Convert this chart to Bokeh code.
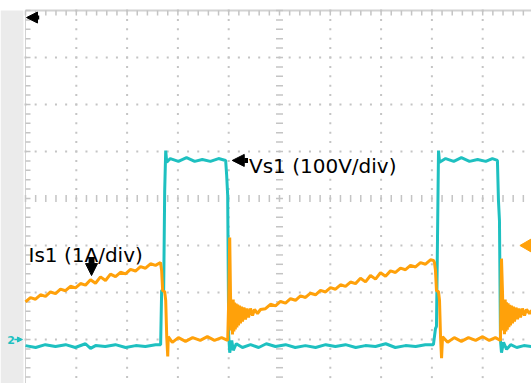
import numpy as np
from bokeh.plotting import figure
from bokeh.models import Range1d, BoxAnnotation, Label, Arrow, NormalHead
from bokeh.embed import file_html
from bokeh.resources import INLINE

# ---- data (time and amplitude in screen divisions) ----
vs1_t = [0.00, 0.20, 0.39, 0.59, 0.79, 0.98, 1.18, 1.28, 1.38, 1.57, 1.77, 1.97, 2.17, 2.36, 2.56, 2.66,
         2.68, 2.72, 2.74, 2.76, 2.78,
         2.85, 3.01, 3.17, 3.33, 3.48, 3.64, 3.80, 3.94,
         3.96, 3.98, 4.00, 4.02, 4.06, 4.09, 4.15,
         4.27, 4.43, 4.59, 4.74, 4.92, 5.12, 5.31, 5.51, 5.71, 5.91, 6.10, 6.30, 6.50, 6.69, 6.89,
         7.09, 7.28, 7.48, 7.68, 7.87, 8.03,
         8.07, 8.09, 8.11, 8.13, 8.15,
         8.27, 8.43, 8.58, 8.74, 8.90, 9.06, 9.19, 9.29,
         9.31, 9.33, 9.35, 9.37, 9.41, 9.47, 9.55, 9.67, 9.81, 9.96]
vs1_v = [-3.13, -3.17, -3.11, -3.15, -3.11, -3.17, -3.09, -3.19, -3.13, -3.15, -3.11, -3.17, -3.13, -3.15, -3.11, -3.11,
         -1.96, -1.94, 0.17, 1.02, 0.77,
         0.85, 0.79, 0.87, 0.79, 0.83, 0.79, 0.85, 0.81,
         0.49, 0.06, -2.91, -3.28, -3.02, -3.23, -3.09,
         -3.17, -3.11, -3.17, -3.09, -3.15, -3.11, -3.17, -3.13, -3.17, -3.11, -3.15, -3.11, -3.17, -3.13, -3.15,
         -3.09, -3.17, -3.13, -3.15, -3.11, -3.11,
         -2.77, -2.72, -0.89, 1.02, 0.77,
         0.85, 0.79, 0.87, 0.79, 0.83, 0.79, 0.85, 0.81,
         -0.04, -0.47, -3.02, -3.28, -3.06, -3.21, -3.11, -3.17, -3.13, -3.15]

is1_t = [0.000, 0.098, 0.197, 0.295, 0.394, 0.492, 0.591, 0.689, 0.787, 0.886, 0.984, 1.083, 1.181, 1.280,
         1.378, 1.476, 1.575, 1.673, 1.772, 1.870, 1.969, 2.067, 2.165, 2.264, 2.362, 2.461, 2.559, 2.657,
         2.68, 2.70, 2.74, 2.76, 2.78, 2.80, 2.81, 2.89, 3.01, 3.15, 3.29, 3.44, 3.58, 3.72, 3.86, 3.98,
         4.00, 4.02,
         4.035, 4.049, 4.063, 4.075, 4.089, 4.102, 4.114, 4.130, 4.146, 4.161, 4.177, 4.193, 4.213, 4.232,
         4.252, 4.272, 4.301, 4.331, 4.360, 4.390, 4.429, 4.469, 4.508, 4.567, 4.626,
         4.724, 4.823, 4.921, 5.020, 5.118, 5.217, 5.315, 5.413, 5.512, 5.610, 5.709, 5.807, 5.906, 6.004,
         6.102, 6.201, 6.299, 6.398, 6.496, 6.594, 6.693, 6.791, 6.890, 6.988, 7.087, 7.185, 7.283, 7.382,
         7.480, 7.579, 7.677, 7.776, 7.874, 7.972, 8.031,
         8.05, 8.07, 8.09, 8.13, 8.15, 8.17, 8.19, 8.21, 8.31, 8.44, 8.58, 8.72, 8.86, 9.00, 9.13, 9.25, 9.35,
         9.37,
         9.390, 9.404, 9.417, 9.429, 9.443, 9.457, 9.469, 9.484, 9.500, 9.516, 9.531, 9.547, 9.567, 9.587,
         9.606, 9.626, 9.656, 9.685, 9.715, 9.744, 9.783, 9.823, 9.862, 9.921, 9.961]
is1_v = [-2.202, -2.109, -2.143, -2.049, -2.083, -1.989, -2.023, -1.928, -1.962, -1.868, -1.902, -1.809, -1.843, -1.728,
         -1.804, -1.668, -1.745, -1.609, -1.664, -1.570, -1.604, -1.509, -1.543, -1.449, -1.483, -1.389, -1.423, -1.362,
         -1.53, -1.96, -1.98, -2.17, -2.94, -3.36, -2.94, -3.06, -2.96, -3.04, -2.96, -3.02, -2.94, -3.02, -2.96, -3.02,
         -2.17, -0.83,
         -2.000, -2.809, -2.170, -2.894, -2.149, -2.830, -2.213, -2.787, -2.234, -2.745, -2.255, -2.702, -2.277, -2.660,
         -2.298, -2.617, -2.319, -2.574, -2.340, -2.532, -2.340, -2.489, -2.362, -2.447, -2.362,
         -2.345, -2.251, -2.285, -2.191, -2.226, -2.132, -2.166, -2.072, -2.106, -2.015, -2.049, -1.955, -1.989, -1.896,
         -1.930, -1.836, -1.870, -1.777, -1.811, -1.698, -1.774, -1.638, -1.715, -1.579, -1.655, -1.540, -1.574, -1.481,
         -1.515, -1.423, -1.457, -1.364, -1.398, -1.304, -1.319,
         -1.36, -1.53, -1.96, -1.98, -2.17, -2.94, -3.40, -2.94, -3.06, -2.96, -3.04, -2.96, -3.02, -2.94, -3.02, -2.96, -3.02,
         -1.28,
         -2.00, -2.81, -2.17, -2.89, -2.15, -2.83, -2.21, -2.79, -2.23, -2.74, -2.26, -2.70, -2.28, -2.66,
         -2.30, -2.62, -2.32, -2.57, -2.34, -2.53, -2.34, -2.49, -2.36, -2.45, -2.38]

ch1_marker = -1.0   # channel 1 reference level (right edge)
ch2_marker = -3.0   # channel 2 reference level (left edge)
trig_level = 3.85

CYAN = "#1ec0c0"
ORANGE = "#ffa10a"
GRID = "#c4c4c4"

p = figure(width=531, height=383, output_backend="svg", toolbar_location=None,
           x_range=Range1d(-25 / 50.8, 506 / 50.8), y_range=Range1d(-185 / 47, 198 / 47),
           x_axis_location=None, y_axis_location=None,
           min_border_left=0, min_border_right=0, min_border_top=0, min_border_bottom=0,
           background_fill_color="white", border_fill_color="white", outline_line_color=None)
p.grid.visible = False

# left grey strip
p.add_layout(BoxAnnotation(right=-0.04, top=4.0, fill_color="#ebebeb", fill_alpha=1, line_color=None))

# frame borders
p.line([0, 0], [-4.2, 4], line_color="#d2d2d2", line_width=1)
p.line([0, 10], [4, 4], line_color="#d2d2d2", line_width=2)

# dotted graticule
minor = np.round(np.arange(0, 10.001, 0.2), 3)
minor_y = np.round(np.arange(-4, 4.001, 0.2), 3)
gx, gy = [], []
for xv in [1, 2, 3, 4, 6, 7, 8, 9]:
    gx += [xv] * len(minor_y); gy += list(minor_y)
for yv in [-3, -2, -1, 1, 2, 3]:
    gx += list(minor); gy += [yv] * len(minor)
p.scatter(gx, gy, marker="square", size=2, fill_color=GRID, line_color=None)

# tick marks: top edge, left edge, centre axes
p.scatter(minor, [4 - 2.5 / 47] * len(minor), marker="dash", size=5, angle=np.pi / 2,
          line_color=GRID, line_width=1.5)
p.scatter([2.5 / 50.8] * len(minor_y), minor_y, marker="dash", size=5, line_color=GRID, line_width=1.5)
p.scatter(minor, [0] * len(minor), marker="dash", size=7, angle=np.pi / 2, line_color=GRID, line_width=1.5)
p.scatter([5] * len(minor_y), minor_y, marker="dash", size=7, line_color=GRID, line_width=1.5)

# traces
p.line(vs1_t, vs1_v, line_color=CYAN, line_width=3)
p.line(is1_t, is1_v, line_color=ORANGE, line_width=3)

# channel markers
p.scatter([9.88], [ch1_marker], marker="triangle", size=13, angle=np.pi / 2,
          fill_color=ORANGE, line_color=ORANGE)
p.add_layout(Label(x=-0.36, y=ch2_marker, text="2", text_color=CYAN, text_font="DejaVu Sans",
                   text_font_size="11px", text_font_style="bold", text_baseline="middle"))
p.add_layout(Arrow(end=NormalHead(size=5, fill_color=CYAN, line_color=CYAN),
                   x_start=-0.22, y_start=ch2_marker, x_end=-0.06, y_end=ch2_marker,
                   line_color=CYAN, line_width=1.5))

# trigger marker (top-left)
p.add_layout(Arrow(end=NormalHead(size=11, fill_color="black", line_color="black"),
                   x_start=0.27, y_start=trig_level, x_end=0.02, y_end=trig_level,
                   line_color="black", line_width=4))

# annotations
p.add_layout(Arrow(end=NormalHead(size=12, fill_color="black", line_color="black"),
                   x_start=4.38, y_start=0.81, x_end=4.07, y_end=0.81,
                   line_color="black", line_width=5))
p.add_layout(Label(x=4.40, y=0.70, text="Vs1 (100V/div)", text_font="DejaVu Sans",
                   text_font_size="20px", text_color="black", text_baseline="alphabetic"))
p.add_layout(Arrow(end=NormalHead(size=12, fill_color="black", line_color="black"),
                   x_start=1.30, y_start=-1.25, x_end=1.30, y_end=-1.64,
                   line_color="black", line_width=6))
p.add_layout(Label(x=0.06, y=-1.21, text="Is1 (1A/div)", text_font="DejaVu Sans",
                   text_font_size="20px", text_color="black", text_baseline="alphabetic"))

open("out.html", "w").write(file_html(p, INLINE))
